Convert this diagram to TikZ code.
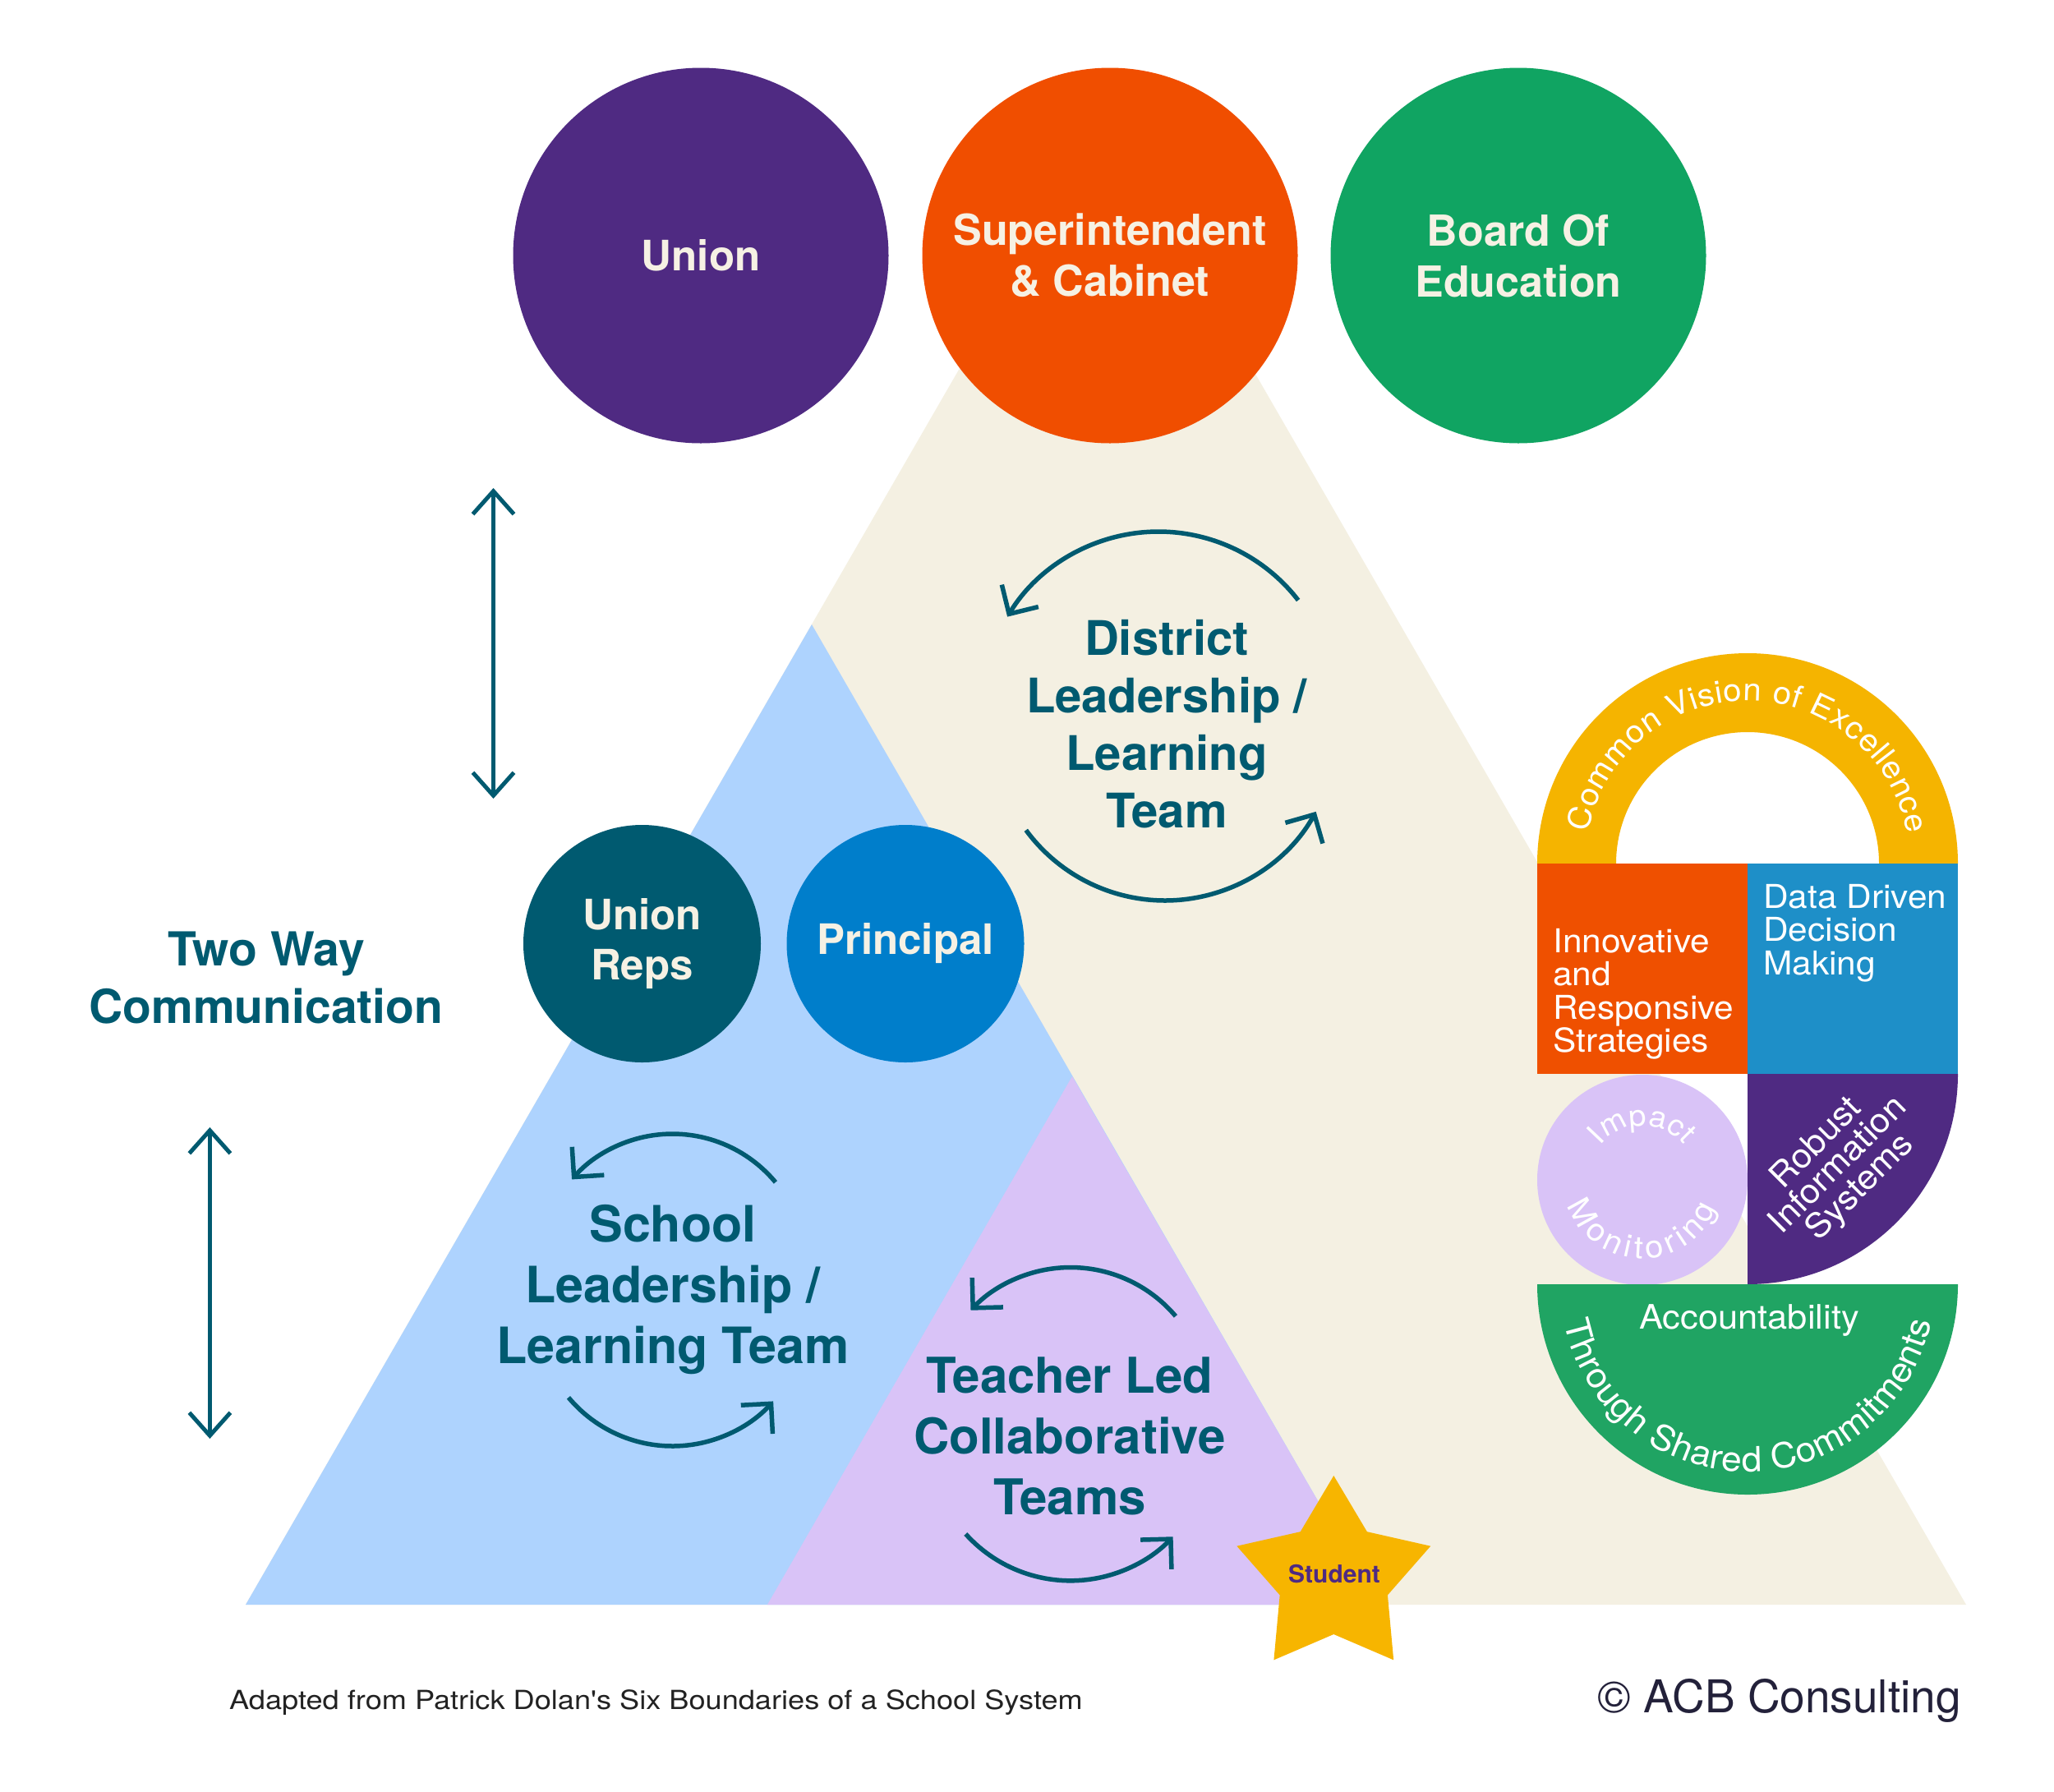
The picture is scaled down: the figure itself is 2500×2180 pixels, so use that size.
\documentclass[tikz,border=0pt]{standalone}
\usepackage{fontspec}
\setmainfont{TeX Gyre Heros}
\newfontfamily\regfont[FakeStretch=1.06]{TeX Gyre Heros}
\newfontfamily\capfont[FakeStretch=1.13]{TeX Gyre Heros}
\usetikzlibrary{arrows.meta,decorations.text,calc}
\definecolor{cUnion}{RGB}{79,42,130}
\definecolor{cSuper}{RGB}{240,78,0}
\definecolor{cBoard}{RGB}{16,164,98}
\definecolor{cBeige}{RGB}{244,240,226}
\definecolor{cLblue}{RGB}{174,211,254}
\definecolor{cLav}{RGB}{217,195,247}
\definecolor{cTeal}{RGB}{0,90,112}
\definecolor{cPrin}{RGB}{0,126,203}
\definecolor{cCream}{RGB}{246,241,228}
\definecolor{cYellow}{RGB}{245,180,0}
\definecolor{cOrBox}{RGB}{239,80,0}
\definecolor{cBlBox}{RGB}{30,143,200}
\definecolor{cGreen}{RGB}{32,164,99}
\definecolor{cStar}{RGB}{247,181,0}
\definecolor{cCap}{RGB}{34,34,34}
\definecolor{cAcb}{RGB}{35,33,58}
\begin{document}
\begin{tikzpicture}[x=1pt,y=-1pt,
  topcirc/.style={circle, minimum size=457pt, inner sep=0pt, text=cCream, font=\bfseries\fontsize{52}{62}\selectfont, align=center},
  midcirc/.style={circle, minimum size=289pt, inner sep=0pt, text=cCream, font=\bfseries\fontsize{51}{61}\selectfont, align=center},
  teamlbl/.style={text=cTeal, align=center, inner sep=0pt},
  cyc/.style={draw=cTeal, line width=5.5pt, >={Straight Barb[length=26pt,width=52pt]}, ->},
  twoway/.style={draw=cTeal, line width=5pt, >={Straight Barb[length=28pt,width=50pt]}, <->},
  boxtxt/.style={text=white, font=\regfont\fontsize{40}{40.5}\selectfont, align=left, inner sep=0pt},
  curvetxt/.style={decorate, decoration={text along path, text color=white, text align={fit to path}, text={#1}}}
]
\fill[white] (0,0) rectangle (2500,2180);
\useasboundingbox (0,0) rectangle (2500,2180);

% triangles
\fill[cBeige] (1346,140) -- (2393,1953) -- (299,1953) -- cycle;
\fill[cLblue] (988,760) -- (1677,1953) -- (299,1953) -- cycle;
\fill[cLav] (1305,1310) -- (1677,1953) -- (934,1953) -- cycle;

% top circles
\node[topcirc, fill=cUnion, font=\bfseries\fontsize{51}{62}\selectfont] (union) at (853,311) {Union};
\node[topcirc, fill=cSuper] (super) at (1351,311) {Superintendent\\\& Cabinet};
\node[topcirc, fill=cBoard] (board) at (1848,311) {Board Of\\Education};

% middle circles
\node[midcirc, fill=cTeal] (ureps) at (781.5,1148.5) {Union\\Reps};
\node[midcirc, fill=cPrin] (principal) at (1102,1148.5) {Principal};

% two way communication
\node[teamlbl, font=\bfseries\fontsize{57}{70}\selectfont] (twoway) at (324,1190) {Two Way\\Communication};
\coordinate (twAtop) at (600.5,594);
\coordinate (twAbot) at (600.5,972);
\draw[twoway] (twAtop) -- (twAbot);
\coordinate (twBtop) at (255.4,1372);
\coordinate (twBbot) at (255.4,1751);
\draw[twoway] (twBtop) -- (twBbot);

% district
\node[teamlbl, font=\bfseries\fontsize{58}{70}\selectfont] (district) at (1420,881) {District\\Leadership /\\Learning\\Team};
\coordinate (dC1) at (1410,862);
\coordinate (dC2) at (1418,886);
\draw[cyc] ($(dC1)+(37.7:215pt)$) arc[start angle=37.7,end angle=148.8,radius=215pt];
\draw[cyc] ($(dC2)+(216.3:210pt)$) arc[start angle=216.3,end angle=331,radius=210pt];

% school
\node[teamlbl, font=\bfseries\fontsize{61}{74}\selectfont] (school) at (819,1570) {School\\Leadership /\\Learning Team};
\coordinate (sC1) at (818.5,1543);
\coordinate (sC2) at (818.5,1595);
\draw[cyc] ($(sC1)+(39.7:163pt)$) arc[start angle=39.7,end angle=138.7,radius=163pt];
\draw[cyc] ($(sC2)+(219.9:165pt)$) arc[start angle=219.9,end angle=318,radius=165pt];

% teacher
\node[teamlbl, font=\bfseries\fontsize{60}{74}\selectfont] (teacher) at (1302,1748) {Teacher Led\\Collaborative\\Teams};
\coordinate (tC1) at (1303,1710);
\coordinate (tC2) at (1303,1752);
\draw[cyc] ($(tC1)+(40.2:167.5pt)$) arc[start angle=40.2,end angle=136.5,radius=167.5pt];
\draw[cyc] ($(tC2)+(222:171.8pt)$) arc[start angle=222,end angle=316.5,radius=171.8pt];

% right block
\coordinate (cvC) at (2127,1051);
\fill[cYellow] ($(cvC)+(-256pt,0)$) arc[start angle=180,end angle=0,radius=256pt] -- ($(cvC)+(160pt,0)$) arc[start angle=0,end angle=180,radius=160pt] -- cycle;
\path[curvetxt={|\regfont\fontsize{38}{38}\selectfont|Common Vision of Excellence}] ($(cvC)+(169:198pt)$) arc[start angle=169,end angle=10.5,radius=198pt];
\fill[cOrBox] (1871,1051) rectangle (2127,1307);
\fill[cBlBox] (2127,1051) rectangle (2383,1307);
\node[boxtxt, anchor=north west] (innov) at (1890,1130) {Innovative\\and\\Responsive\\Strategies};
\node[boxtxt, anchor=north west] (data) at (2146,1076) {Data Driven\\Decision\\Making};
\coordinate (lavC) at (1999,1436);
\fill[cLav] (lavC) circle[radius=128pt];
\path[curvetxt={|\regfont\fontsize{36}{36}\selectfont|Impact}] ($(lavC)+(141:66pt)$) arc[start angle=141,end angle=40,radius=66pt];
\path[curvetxt={|\regfont\fontsize{38}{38}\selectfont|Monitoring}] ($(lavC)+(199:96pt)$) arc[start angle=199,end angle=339,radius=96pt];
\fill[cUnion] (2127,1307) -- (2383,1307) arc[start angle=0,end angle=-90,radius=256pt] -- cycle;
\node[rotate=45, text=white, font=\regfont\fontsize{41}{38}\selectfont, align=center, inner sep=0pt] (robust) at (2238,1419) {Robust\\Information\\Systems};
\coordinate (grC) at (2127,1563);
\fill[cGreen] (1871,1563) -- (2383,1563) arc[start angle=0,end angle=-180,radius=256pt] -- cycle;
\node[anchor=base, text=white, font=\regfont\fontsize{41}{41}\selectfont, inner sep=0pt] (acct) at (2129,1617) {Accountability};
\path[curvetxt={|\regfont\fontsize{42}{42}\selectfont|Through Shared Commitments}] ($(grC)+(191.7:228pt)$) arc[start angle=191.7,end angle=348.4,radius=228pt];

% star
\coordinate (stC) at (1623.3,1920);
\fill[cStar] (stC) +(90:124pt) -- +(126:69pt) -- +(162:124pt) -- +(198:69pt) -- +(234:124pt) -- +(270:69pt) -- +(306:124pt) -- +(342:69pt) -- +(18:124pt) -- +(54:69pt) -- cycle;
\node[font=\bfseries\fontsize{30}{30}\selectfont, text=cUnion, inner sep=0pt] (student) at (1624,1916) {Student};

% captions
\node[anchor=base west, inner sep=0pt, font=\capfont\fontsize{32}{32}\selectfont, text=cCap] (credit) at (279,2080) {Adapted from Patrick Dolan's Six Boundaries of a School System};
\node[anchor=base east, inner sep=0pt, font=\fontsize{55}{55}\selectfont, text=cAcb] (acb) at (2387,2084) {© ACB Consulting};
\end{tikzpicture}
\end{document}
